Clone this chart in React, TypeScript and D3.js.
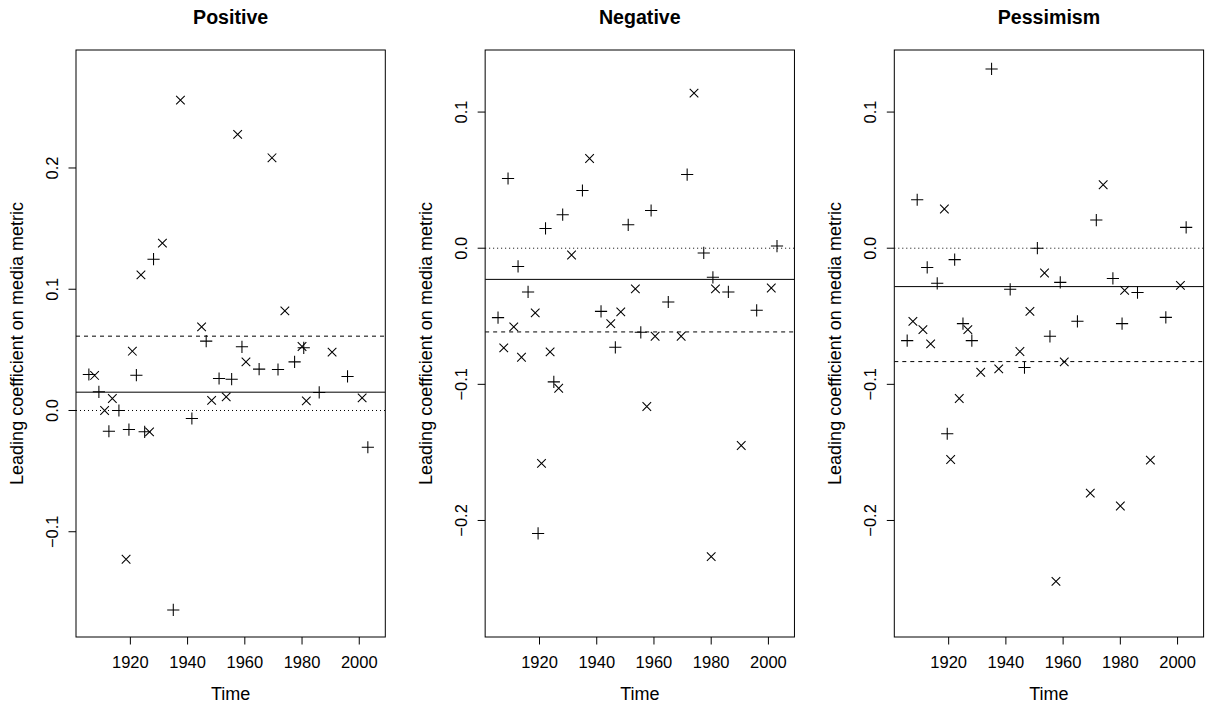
import React from "react";
import * as d3 from "d3";

// Shared time points for the two marker series
const crossYears = [1907.5, 1911.0, 1913.7, 1918.5, 1920.7, 1923.7, 1926.7, 1931.2, 1937.5, 1944.9, 1948.4, 1953.5, 1957.5, 1960.4, 1969.5, 1974.0, 1980.0, 1981.5, 1990.5, 2001.0];
const plusYears = [1905.5, 1909.0, 1912.5, 1916.0, 1919.5, 1922.1, 1925.0, 1928.1, 1935.0, 1941.5, 1946.5, 1951.0, 1955.4, 1959.0, 1965.0, 1971.6, 1977.4, 1980.6, 1986.0, 1995.9, 2003.0];

const titles = ["Positive", "Negative", "Pessimism"];

const positiveCross = [0.0289, 0.0, 0.0099, -0.1227, 0.0489, 0.1119, -0.0176, 0.138, 0.256, 0.069, 0.0083, 0.0112, 0.2277, 0.0401, 0.2084, 0.0822, 0.0528, 0.0079, 0.0481, 0.0104];
const positivePlus = [0.0297, 0.0154, -0.0171, 0.0, -0.0157, 0.0291, -0.0176, 0.1248, -0.1645, -0.0066, 0.0572, 0.0264, 0.0258, 0.0525, 0.0341, 0.0338, 0.0401, 0.0517, 0.0149, 0.0281, -0.0303];

const negativeCross = [-0.0732, -0.0578, -0.0801, -0.0475, -0.1581, -0.0762, -0.1029, -0.005, 0.0659, -0.0554, -0.0468, -0.0299, -0.1163, -0.0647, -0.0647, 0.1139, -0.2266, -0.0299, -0.1449, -0.0292];
const negativePlus = [-0.051, 0.0512, -0.0134, -0.0321, -0.2095, 0.0145, -0.0982, 0.0246, 0.0424, -0.0464, -0.0728, 0.0172, -0.0618, 0.0277, -0.0395, 0.0541, -0.0035, -0.0214, -0.0321, -0.0456, 0.0016];

const pessimismCross = [-0.0537, -0.0598, -0.0703, 0.0288, -0.1552, -0.1104, -0.0598, -0.0911, -0.0886, -0.0759, -0.0464, -0.0182, -0.2447, -0.0835, -0.1799, 0.0466, -0.1894, -0.031, -0.1557, -0.0273];
const pessimismPlus = [-0.0679, 0.0356, -0.0141, -0.0258, -0.1363, -0.0084, -0.0554, -0.0679, 0.1317, -0.0302, -0.0877, 0.0, -0.0647, -0.0251, -0.0537, 0.0207, -0.0222, -0.0554, -0.0326, -0.0508, 0.0153];

const crossSeries = [positiveCross, negativeCross, pessimismCross];
const plusSeries = [positivePlus, negativePlus, pessimismPlus];

const dashedLevels = [0.0613, -0.0615, -0.0833];
const solidLevels = [0.0151, -0.0229, -0.0282];

const yLimits = [
  [-0.1868, 0.2973],
  [-0.2856, 0.1456],
  [-0.2856, 0.1456],
];
const yTickValues = [
  [-0.1, 0.0, 0.1, 0.2],
  [-0.2, -0.1, 0.0, 0.1],
  [-0.2, -0.1, 0.0, 0.1],
];
const xLimits = [1901.0, 2009.1];
const xTickValues = [1920, 1940, 1960, 1980, 2000];

const yLabel = "Leading coefficient on media metric";
const xLabel = "Time";

const FONT = "'Liberation Sans', Arial, Helvetica, sans-serif";

function fmtY(v: number) {
  const s = Math.abs(v).toFixed(1);
  return v < -1e-9 ? "\u2212" + s : s;
}

function Panel({ index }: { index: number }) {
  const left = 76 + index * 409.15;
  const width = 309.3;
  const top = 50;
  const bottom = 637;
  const x = d3.scaleLinear().domain(xLimits).range([left, left + width]);
  const y = d3.scaleLinear().domain(yLimits[index]).range([bottom, top]);
  const tick = 7.5;
  const fs = 16.5;
  const lfs = 18;
  const cr = 4.3;
  const pr = 6.1;
  const cx = (left + left + width) / 2;
  const cy = (top + bottom) / 2;
  return (
    <g>
      <text x={cx} y={24} textAnchor="middle" fontFamily={FONT} fontWeight="bold" fontSize={19.6} fill="#000">
        {titles[index]}
      </text>
      <defs>
        <clipPath id={`clip${index}`}>
          <rect x={left} y={top} width={width} height={bottom - top} />
        </clipPath>
      </defs>
      <g clipPath={`url(#clip${index})`} stroke="#000" strokeWidth={1}>
        <line x1={left} x2={left + width} y1={y(0)} y2={y(0)} strokeDasharray="1,3" />
        <line x1={left} x2={left + width} y1={y(dashedLevels[index])} y2={y(dashedLevels[index])} strokeDasharray="4,4" />
        <line x1={left} x2={left + width} y1={y(solidLevels[index])} y2={y(solidLevels[index])} />
      </g>
      <g stroke="#000" strokeWidth={1.05} fill="none">
        {crossSeries[index].map((v, i) => {
          const px = x(crossYears[i]);
          const py = y(v);
          return (
            <path key={`c${i}`} d={`M${px - cr},${py - cr}L${px + cr},${py + cr}M${px - cr},${py + cr}L${px + cr},${py - cr}`} />
          );
        })}
        {plusSeries[index].map((v, i) => {
          const px = x(plusYears[i]);
          const py = y(v);
          return <path key={`p${i}`} d={`M${px - pr},${py}L${px + pr},${py}M${px},${py - pr}L${px},${py + pr}`} />;
        })}
      </g>
      <rect x={left} y={top} width={width} height={bottom - top} fill="none" stroke="#000" strokeWidth={1} />
      <g stroke="#000" strokeWidth={1}>
        {xTickValues.map((t) => (
          <line key={`xt${t}`} x1={x(t)} x2={x(t)} y1={bottom} y2={bottom + tick} />
        ))}
        {yTickValues[index].map((t) => (
          <line key={`yt${t}`} x1={left - tick} x2={left} y1={y(t)} y2={y(t)} />
        ))}
      </g>
      {xTickValues.map((t) => (
        <text key={`xl${t}`} x={x(t)} y={668} textAnchor="middle" fontFamily={FONT} fontSize={fs} fill="#000">
          {t}
        </text>
      ))}
      {yTickValues[index].map((t) => (
        <text
          key={`yl${t}`}
          transform={`translate(${left - 18},${y(t)}) rotate(-90)`}
          textAnchor="middle"
          fontFamily={FONT}
          fontSize={fs}
          fill="#000"
        >
          {fmtY(t)}
        </text>
      ))}
      <text x={cx} y={700} textAnchor="middle" fontFamily={FONT} fontSize={lfs} fill="#000">
        {xLabel}
      </text>
      <text
        transform={`translate(${left - 53},${cy}) rotate(-90)`}
        textAnchor="middle"
        fontFamily={FONT}
        fontSize={lfs}
        fill="#000"
      >
        {yLabel}
      </text>
    </g>
  );
}

export default function App() {
  return (
    <svg
      width={1209}
      height={709}
      viewBox="0 0 1209 709"
      style={{ position: "absolute", left: 0, top: 0, background: "#fff" }}
    >
      <rect x={0} y={0} width={1209} height={709} fill="#fff" />
      {[0, 1, 2].map((i) => (
        <Panel key={i} index={i} />
      ))}
    </svg>
  );
}
